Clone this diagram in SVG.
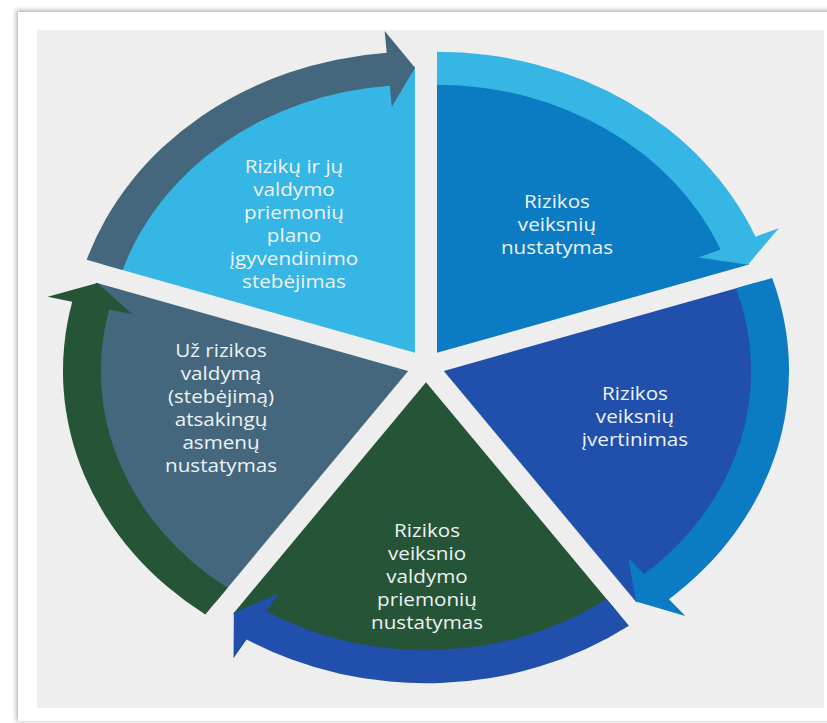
<svg xmlns="http://www.w3.org/2000/svg" xmlns:xlink="http://www.w3.org/1999/xlink" width="827" height="723" viewBox="0 0 827 723">
  <style>
    .lbl { font-family: "Open Sans", "Noto Sans", "DejaVu Sans", sans-serif; font-size: 18px; fill: #EEF2F4; text-anchor: middle; }
  </style>
  <defs>
    <filter id="shadow" x="-5%" y="-5%" width="110%" height="110%">
      <feGaussianBlur stdDeviation="2"/>
    </filter>
    <path id="wedge" d="M 9.58 -13.19 L 9.58 -299.19 A 286 286 0 0 1 281.58 -101.57 Z"/>
    <path id="band" d="M 9.58 -281.19 L 9.58 -314.19 A 301 301 0 0 1 287.27 -129.35 L 307.56 -137.84 L 280.63 -101.26 L 237.45 -108.51 L 256.82 -116.61 A 268 268 0 0 0 9.58 -281.19 Z"/>
  </defs>

  <rect width="827" height="723" fill="#FFFFFF"/>
  <rect x="16" y="10" width="820" height="711" fill="#B8B8B8" filter="url(#shadow)"/>
  <rect x="18" y="12" width="820" height="709" fill="#FFFFFF"/>
  <rect x="37" y="30" width="787" height="678" fill="#EEEEEE"/>

  <g transform="translate(426 366) scale(1.147 1)">
    <g id="node-nustatymas">
      <use xlink:href="#wedge" fill="#0B7BC3"/>
    </g>
    <g id="node-ivertinimas">
      <use xlink:href="#wedge" fill="#2150AC" transform="rotate(72)"/>
    </g>
    <g id="node-priemoniu">
      <use xlink:href="#wedge" fill="#265436" transform="rotate(144)"/>
    </g>
    <g id="node-asmenu">
      <use xlink:href="#wedge" fill="#44677D" transform="rotate(216)"/>
    </g>
    <g id="node-stebejimas">
      <use xlink:href="#wedge" fill="#35B6E4" transform="rotate(288)"/>
    </g>

    <g id="connectors">
      <use xlink:href="#band" fill="#35B6E4"/>
      <use xlink:href="#band" fill="#0B7BC3" transform="rotate(72)"/>
      <use xlink:href="#band" fill="#2150AC" transform="rotate(144)"/>
      <use xlink:href="#band" fill="#265436" transform="rotate(216)"/>
      <use xlink:href="#band" fill="#44677D" transform="rotate(288)"/>
    </g>

    <g id="labels">
      <text class="lbl" x="114.2" y="-158">Rizikos</text>
      <text class="lbl" x="114.2" y="-135">veiksnių</text>
      <text class="lbl" x="114.2" y="-112">nustatymas</text>

      <text class="lbl" x="182.2" y="34">Rizikos</text>
      <text class="lbl" x="182.2" y="57">veiksnių</text>
      <text class="lbl" x="182.2" y="80">įvertinimas</text>

      <text class="lbl" x="0.9" y="171">Rizikos</text>
      <text class="lbl" x="0.9" y="194">veiksnio</text>
      <text class="lbl" x="0.9" y="217">valdymo</text>
      <text class="lbl" x="0.9" y="240">priemonių</text>
      <text class="lbl" x="0.9" y="263">nustatymas</text>

      <text class="lbl" x="-178.7" y="-9">Už rizikos</text>
      <text class="lbl" x="-178.7" y="14">valdymą</text>
      <text class="lbl" x="-178.7" y="37">(stebėjimą)</text>
      <text class="lbl" x="-178.7" y="60">atsakingų</text>
      <text class="lbl" x="-178.7" y="83">asmenų</text>
      <text class="lbl" x="-178.7" y="106">nustatymas</text>

      <text class="lbl" x="-115.1" y="-193">Rizikų ir jų</text>
      <text class="lbl" x="-115.1" y="-170">valdymo</text>
      <text class="lbl" x="-115.1" y="-147">priemonių</text>
      <text class="lbl" x="-115.1" y="-124">plano</text>
      <text class="lbl" x="-115.1" y="-101">įgyvendinimo</text>
      <text class="lbl" x="-115.1" y="-78">stebėjimas</text>
    </g>
  </g>
</svg>
